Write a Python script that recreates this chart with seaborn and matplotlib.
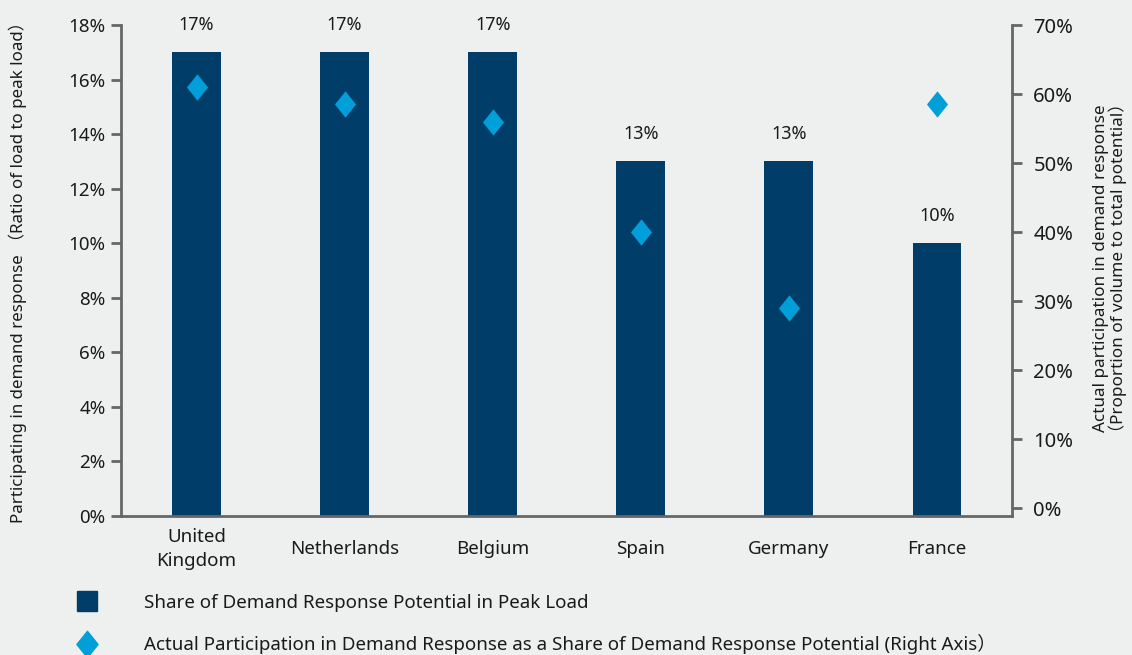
import numpy as np
import pandas as pd
import matplotlib
matplotlib.use("Agg")
import matplotlib.pyplot as plt
import seaborn as sns
from matplotlib.path import Path
from matplotlib.lines import Line2D
from matplotlib.ticker import FuncFormatter

countries = ["United\nKingdom", "Netherlands", "Belgium", "Spain", "Germany", "France"]
potential_share = [17, 17, 17, 13, 13, 10]          # left axis, %
actual_participation = [61, 58.5, 56, 40, 29, 58.5]  # right axis, %
left_ticks = [0, 2, 4, 6, 8, 10, 12, 14, 16, 18]
right_ticks = [0, 10, 20, 30, 40, 50, 60, 70]
legend_labels = ["Share of Demand Response Potential in Peak Load",
                 "Actual Participation in Demand Response as a Share of Demand Response Potential (Right Axis）"]

BG = "#eef0ef"
BAR = "#003d69"
DIA = "#009fda"
SPINE = "#666666"
TXT = "#1a1a1a"

sns.set_style("white")
plt.rcParams["font.family"] = ["Noto Sans", "Noto Sans CJK SC", "DejaVu Sans"]
plt.rcParams["text.color"] = TXT

df = pd.DataFrame({"country": countries, "share": potential_share,
                   "actual": actual_participation, "pos": np.arange(len(countries))})

fig = plt.figure(figsize=(11.32, 6.55), dpi=100, facecolor=BG)
ax = fig.add_axes([0.1069, 0.2122, 0.7875, 0.7496])
ax.set_facecolor(BG)

sns.barplot(data=df, x="pos", y="share", color=BAR, width=0.33, saturation=1,
            ax=ax, native_scale=True, linewidth=0, edgecolor=BAR)
ax.set_xlim(-0.51, 5.51)
ax.set_ylim(0, 18)
ax.set_yticks(left_ticks)
ax.yaxis.set_major_formatter(FuncFormatter(lambda v, p: f"{v:.0f}%"))
ax.set_xticks(df["pos"])
ax.set_xticklabels(countries, fontsize=13.5, linespacing=1.45, va="center")
ax.tick_params(axis="x", length=0, pad=24, colors=TXT)
ax.tick_params(axis="y", length=7, width=2, color=SPINE, labelsize=13.5, pad=4, labelcolor=TXT)
ax.bar_label(ax.containers[0], labels=[f"{v:.0f}%" for v in potential_share],
             padding=13, fontsize=13, color=TXT)
ax.set_xlabel("")
ax.set_ylabel("Participating in demand response （Ratio of load to peak load）",
              fontsize=12.2, color=TXT)
ax.yaxis.set_label_coords(-0.106, 0.505)
for s in ["top", "right"]:
    ax.spines[s].set_visible(False)
for s in ["left", "bottom"]:
    ax.spines[s].set_color(SPINE)
    ax.spines[s].set_linewidth(2)

ax2 = ax.twinx()
diamond = Path([(0, 1), (0.8, 0), (0, -1), (-0.8, 0), (0, 1)],
               [Path.MOVETO, Path.LINETO, Path.LINETO, Path.LINETO, Path.CLOSEPOLY])
sns.scatterplot(data=df, x="pos", y="actual", marker=diamond, s=360, color=DIA,
                linewidth=0, ax=ax2, zorder=5)
ax2.set_ylim(-1.16, 70)
ax2.set_yticks(right_ticks)
ax2.yaxis.set_major_formatter(FuncFormatter(lambda v, p: f"{v:.0f}%"))
ax2.tick_params(axis="y", length=7, width=2, color=SPINE, labelsize=14.5, pad=8, labelcolor=TXT)
ax2.set_ylabel("Actual participation in demand response\n（Proportion of volume to total potential）",
               fontsize=12.3, color=TXT, linespacing=1.0)
ax2.yaxis.set_label_coords(1.09, 0.505)
for s in ["top", "left", "bottom"]:
    ax2.spines[s].set_visible(False)
ax2.spines["right"].set_color(SPINE)
ax2.spines["right"].set_linewidth(2)
ax2.set_xlim(-0.51, 5.51)

handles = [Line2D([], [], marker="s", linestyle="none", markersize=15, color=BAR),
           Line2D([], [], marker=diamond, linestyle="none", markersize=19, color=DIA)]
fig.legend(handles, legend_labels, loc="upper left", bbox_to_anchor=(0.058, 0.105),
           frameon=False, fontsize=13.5, handletextpad=2.3, labelspacing=1.2,
           borderaxespad=0, handlelength=1.5)

fig.savefig("out.png", dpi=100, facecolor=BG)
